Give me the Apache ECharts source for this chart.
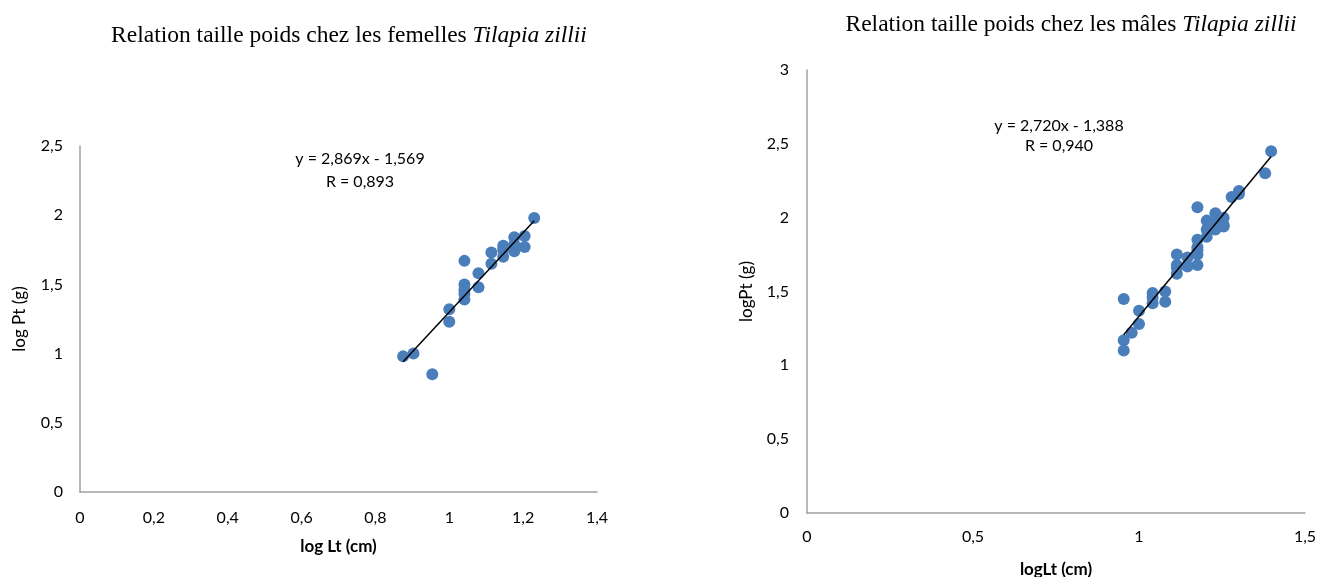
<!DOCTYPE html>
<html>
<head>
<meta charset="utf-8">
<script src="https://cdn.jsdelivr.net/npm/echarts@6/dist/echarts.min.js"></script>
<style>html,body{margin:0;padding:0;background:#fff;}#c{width:1320px;height:577px;}</style>
</head>
<body>
<div id="c"></div>
<script>
// ---- Data ----
const femalesLogLt = [0.875,0.903,0.954,1.0,1.0,1.041,1.041,1.041,1.041,1.041,1.079,1.079,1.114,1.114,1.146,1.146,1.146,1.176,1.176,1.176,1.204,1.204,1.230];
const femalesLogPt = [0.98,1.00,0.85,1.32,1.23,1.67,1.50,1.46,1.43,1.39,1.58,1.48,1.73,1.65,1.78,1.70,1.75,1.84,1.74,1.79,1.85,1.77,1.98];
const malesLogLt = [0.954,0.954,0.954,0.978,1.0,1.0,1.041,1.041,1.041,1.079,1.079,1.114,1.114,1.114,1.114,1.146,1.146,1.176,1.176,1.176,1.176,1.176,1.176,1.204,1.204,1.204,1.230,1.230,1.230,1.255,1.255,1.255,1.279,1.301,1.301,1.380,1.398];
const malesLogPt = [1.45,1.17,1.10,1.22,1.37,1.28,1.49,1.46,1.42,1.50,1.43,1.75,1.68,1.62,1.66,1.73,1.67,2.07,1.85,1.80,1.75,1.68,1.78,1.98,1.87,1.92,2.03,1.92,1.97,2.00,1.95,1.94,2.14,2.18,2.16,2.30,2.45];
const fitSlope = [2.869, 2.720];
const fitIntercept = [-1.569, -1.388];
const fitR = ['0,893', '0,940'];
const equations = ['y = 2,869x - 1,569', 'y = 2,720x - 1,388'];
const titles = ['Relation taille poids chez les femelles ', 'Relation taille poids chez les mâles '];
const species = 'Tilapia zillii';

// ---- helpers ----
const pts = (xs, ys) => xs.map((x, i) => [x, ys[i]]);
const fitLine = (xs, k) => {
  const lo = Math.min(...xs), hi = Math.max(...xs);
  return [[lo, fitSlope[k]*lo + fitIntercept[k]], [hi, fitSlope[k]*hi + fitIntercept[k]]];
};
const fmt = v => String(+v.toFixed(2)).replace('.', ',');
const blue = '#4A7EBB';
const axisColor = '#A0A0A0';
const labelFont = {fontFamily: 'Lato', fontSize: 16, color: '#000'};

function xAxis(idx, max, interval, name, gap, margin) {
  return {type:'value', gridIndex: idx, min: 0, max: max, interval: interval,
    name: name, nameLocation:'middle', nameGap: gap,
    nameTextStyle:{fontFamily:'Lato', fontSize:17, fontWeight:'bold', color:'#000'},
    axisLine:{show:true, lineStyle:{color:axisColor, width:1.5}}, axisTick:{show:false},
    splitLine:{show:false}, axisLabel:Object.assign({margin:margin, formatter: fmt}, labelFont)};
}
function yAxis(idx, max, name, margin) {
  return {type:'value', gridIndex: idx, min: 0, max: max, interval: 0.5,
    name: name, nameLocation:'middle', nameGap: 52,
    nameTextStyle:{fontFamily:'Lato', fontSize:17, color:'#000'},
    axisLine:{show:true, lineStyle:{color:axisColor, width:1.5}}, axisTick:{show:false},
    splitLine:{show:false}, axisLabel:Object.assign({margin:margin, formatter: fmt}, labelFont)};
}
const titleStyle = {fontFamily:'Liberation Serif', fontSize:23.5, fontWeight:'normal', color:'#000',
  rich:{i:{fontFamily:'Liberation Serif', fontSize:23.5, fontStyle:'italic', color:'#000'}}};

const chart = echarts.init(document.getElementById('c'));
chart.setOption({
  animation: false,
  backgroundColor: '#fff',
  title: [
    {text: titles[0] + '{i|' + species + '}', left: 344, top: 19, textAlign: 'center', textStyle: titleStyle},
    {text: titles[1] + '{i|' + species + '}', left: 1066, top: 8, textAlign: 'center', textStyle: titleStyle}
  ],
  grid: [
    {left: 80, top: 146, width: 517, height: 346, outerBoundsMode: 'none', containLabel: false},
    {left: 807, top: 70, width: 498, height: 443, outerBoundsMode: 'none', containLabel: false}
  ],
  xAxis: [xAxis(0, 1.4, 0.2, 'log Lt (cm)', 46, 18), xAxis(1, 1.5, 0.5, 'logLt (cm)', 48, 16)],
  yAxis: [yAxis(0, 2.5, 'log Pt (g)', 17), yAxis(1, 3, 'logPt (g)', 18)],
  graphic: [
    {type:'text', x: 360, y: 147, style:{text: equations[0] + '\nR = ' + fitR[0],
      font:'16px Lato', fill:'#000', lineHeight: 23, align:'center', verticalAlign:'top'}},
    {type:'text', x: 1059, y: 116, style:{text: equations[1] + '\nR = ' + fitR[1],
      font:'16px Lato', fill:'#000', lineHeight: 20, align:'center', verticalAlign:'top'}}
  ],
  series: [
    {type:'scatter', xAxisIndex:0, yAxisIndex:0, data: pts(femalesLogLt, femalesLogPt), symbolSize: 12,
     itemStyle:{color: blue, opacity: 1}, z: 2},
    {type:'line', xAxisIndex:0, yAxisIndex:0, data: fitLine(femalesLogLt, 0), symbol:'none',
     lineStyle:{color:'#000', width:1.5}, z: 3},
    {type:'scatter', xAxisIndex:1, yAxisIndex:1, data: pts(malesLogLt, malesLogPt), symbolSize: 12,
     itemStyle:{color: blue, opacity: 1}, z: 2},
    {type:'line', xAxisIndex:1, yAxisIndex:1, data: fitLine(malesLogLt, 1), symbol:'none',
     lineStyle:{color:'#000', width:1.5}, z: 3}
  ]
});
</script>
</body>
</html>
